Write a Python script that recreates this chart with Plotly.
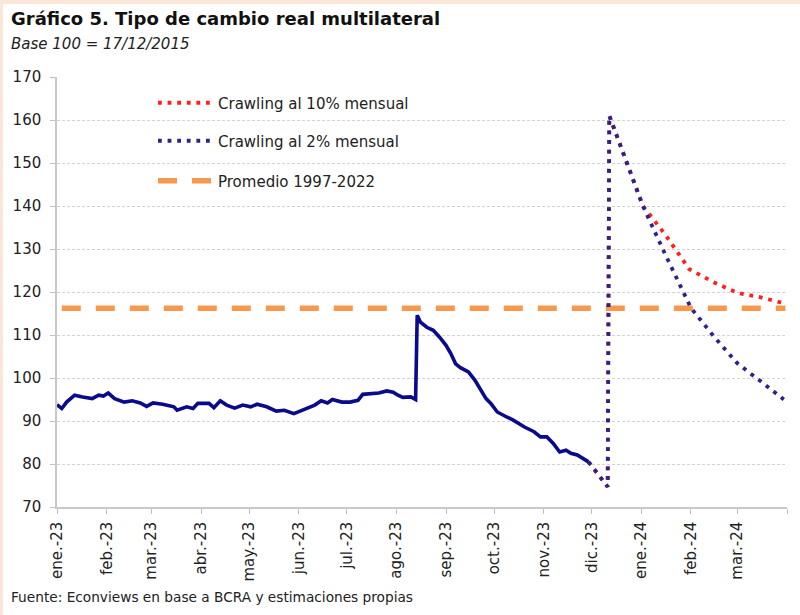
import plotly.graph_objects as go

# ---------------- data ----------------
actual_dates = [
    "2023-01-01", "2023-01-04", "2023-01-07", "2023-01-12", "2023-01-17", "2023-01-23",
    "2023-01-27", "2023-01-30", "2023-02-02", "2023-02-06", "2023-02-12", "2023-02-17",
    "2023-02-22", "2023-02-26", "2023-03-02", "2023-03-08", "2023-03-15", "2023-03-17",
    "2023-03-23", "2023-03-27", "2023-03-30", "2023-04-06", "2023-04-09", "2023-04-13",
    "2023-04-17", "2023-04-22", "2023-04-27", "2023-05-02", "2023-05-06", "2023-05-12",
    "2023-05-18", "2023-05-23", "2023-05-29", "2023-06-02", "2023-06-06", "2023-06-11",
    "2023-06-15", "2023-06-19", "2023-06-22", "2023-06-28", "2023-07-03", "2023-07-08",
    "2023-07-11", "2023-07-16", "2023-07-21", "2023-07-26", "2023-07-30", "2023-08-02",
    "2023-08-05", "2023-08-10", "2023-08-13", "2023-08-14", "2023-08-16", "2023-08-20",
    "2023-08-24", "2023-08-28", "2023-09-01", "2023-09-04", "2023-09-07", "2023-09-10",
    "2023-09-15", "2023-09-19", "2023-09-22", "2023-09-26", "2023-09-29", "2023-10-03",
    "2023-10-08", "2023-10-13", "2023-10-20", "2023-10-26", "2023-10-30", "2023-11-03",
    "2023-11-07", "2023-11-11", "2023-11-15", "2023-11-18", "2023-11-22", "2023-11-26",
    "2023-11-29",
]
actual_values = [
    93.8, 92.9, 94.4, 96.0, 95.6, 95.2,
    96.0, 95.8, 96.5, 95.2, 94.4, 94.7,
    94.2, 93.4, 94.2, 93.9, 93.3, 92.5,
    93.3, 92.9, 94.1, 94.1, 93.1, 94.7,
    93.7, 93.0, 93.7, 93.3, 93.9, 93.3,
    92.3, 92.5, 91.7, 92.3, 93.1, 93.7,
    94.7, 94.2, 95.0, 94.4, 94.4, 94.8,
    96.2, 96.4, 96.5, 97.0, 96.7, 96.0,
    95.5, 95.6, 95.0, 114.6, 113.0, 111.8,
    111.1, 109.5, 107.6, 105.7, 103.3, 102.4,
    101.4, 99.5, 97.5, 95.2, 94.1, 92.1,
    91.1, 90.2, 88.6, 87.5, 86.3, 86.3,
    84.8, 82.8, 83.2, 82.5, 82.1, 81.3,
    80.5,
]

crawl10_dates = ["2023-11-29", "2023-12-11", "2023-12-12", "2024-01-02", "2024-01-16",
                 "2024-01-31", "2024-02-15", "2024-03-01", "2024-03-15", "2024-03-30"]
crawl10_values = [80.5, 74.7, 161.0, 140.0, 133.3, 125.3, 122.3, 119.8, 118.8, 117.4]

crawl2_dates = ["2023-11-29", "2023-12-11", "2023-12-12", "2024-01-02", "2024-01-16",
                "2024-02-01", "2024-02-15", "2024-03-01", "2024-03-15", "2024-03-30"]
crawl2_values = [80.5, 74.7, 161.0, 140.0, 128.7, 116.3, 109.8, 103.4, 99.4, 95.0]

avg_dates = ["2023-01-04", "2024-03-31"]
avg_values = [116.2, 116.2]

tick_dates = ["2023-01-01", "2023-02-01", "2023-03-01", "2023-04-01", "2023-05-01",
              "2023-06-01", "2023-07-01", "2023-08-01", "2023-09-01", "2023-10-01",
              "2023-11-01", "2023-12-01", "2024-01-01", "2024-02-01", "2024-03-01",
              "2024-04-01"]
tick_labels = ["ene.-23", "feb.-23", "mar.-23", "abr.-23", "may.-23", "jun.-23",
               "jul.-23", "ago.-23", "sep.-23", "oct.-23", "nov.-23", "dic.-23",
               "ene.-24", "feb.-24", "mar.-24", ""]

names = ["Crawling al 10% mensual", "Crawling al 2% mensual", "Promedio 1997-2022"]
title = "Gráfico 5. Tipo de cambio real multilateral"
subtitle = "Base 100 = 17/12/2015"
source = "Fuente: Econviews en base a BCRA y estimaciones propias"

# ---------------- layout geometry ----------------
W, H = 800, 615
L, R, T, B = 57, 13, 77, 108
PW, PH = W - L - R, H - T - B


def px(xp):
    return (xp - L) / PW


def py(yp):
    return (H - B - yp) / PH


FONT = "DejaVu Sans"
RED = "#FF1F1F"
BLUE2 = "#2C2388"
NAVY = "#0A0A8C"
ORANGE = "#F7984C"

fig = go.Figure()

fig.add_trace(go.Scatter(
    x=avg_dates, y=avg_values, mode="lines", name=names[2],
    line=dict(color=ORANGE, width=5.5, dash="19px,15px"), legend="legend3"))
fig.add_trace(go.Scatter(
    x=crawl10_dates, y=crawl10_values, mode="lines", name=names[0],
    line=dict(color=RED, width=3.8, dash="3.8px,5.8px"), legend="legend"))
fig.add_trace(go.Scatter(
    x=crawl2_dates, y=crawl2_values, mode="lines", name=names[1],
    line=dict(color=BLUE2, width=3.8, dash="3.8px,5.8px"), legend="legend2"))
fig.add_trace(go.Scatter(
    x=actual_dates, y=actual_values, mode="lines", name="TCRM",
    line=dict(color=NAVY, width=3.6), showlegend=False))

leg_common = dict(font=dict(family=FONT, size=15, color="#222222"),
                  bgcolor="rgba(0,0,0,0)", xanchor="left", yanchor="middle",
                  itemwidth=55, borderwidth=0)

fig.update_layout(
    width=W, height=H,
    margin=dict(l=L, r=R, t=T, b=B),
    paper_bgcolor="white", plot_bgcolor="white",
    font=dict(family=FONT, size=15, color="#222222"),
    legend=dict(x=px(153), y=py(103), **leg_common),
    legend2=dict(x=px(153), y=py(141), **leg_common),
    legend3=dict(x=px(153), y=py(181), **leg_common),
    xaxis=dict(
        type="date", range=["2023-01-01", "2024-04-01"],
        tickmode="array", tickvals=tick_dates, ticktext=tick_labels,
        tickangle=-90, ticks="outside", ticklen=5, tickcolor="#BFBFBF",
        showline=True, linecolor="#C8C8C8", linewidth=1.5,
        showgrid=False, zeroline=False, ticklabelstandoff=2,
        tickfont=dict(family=FONT, size=15, color="#222222"),
    ),
    yaxis=dict(
        range=[70, 170], tickmode="linear", tick0=70, dtick=10,
        ticks="outside", ticklen=5, tickcolor="#BFBFBF",
        showline=True, linecolor="#C8C8C8", linewidth=1.5,
        showgrid=True, gridcolor="#D3D3D3", gridwidth=1, griddash="3px,2px",
        zeroline=False, ticklabelstandoff=6,
        tickfont=dict(family=FONT, size=15, color="#222222"),
    ),
    shapes=[
        dict(type="rect", xref="paper", yref="paper", x0=px(0), x1=px(W), y0=py(0), y1=py(4),
             fillcolor="#FCE6D8", line=dict(width=0), layer="below"),
        dict(type="rect", xref="paper", yref="paper", x0=px(0), x1=px(3), y0=py(H), y1=py(0),
             fillcolor="#FCE6D8", line=dict(width=0), layer="below"),
    ],
    annotations=[
        dict(text="<b>" + title + "</b>", xref="paper", yref="paper", x=px(9), y=py(6),
             xanchor="left", yanchor="top", showarrow=False,
             font=dict(family=FONT, size=18, color="#111111")),
        dict(text="<i>" + subtitle + "</i>", xref="paper", yref="paper", x=px(9), y=py(33),
             xanchor="left", yanchor="top", showarrow=False,
             font=dict(family=FONT, size=15, color="#222222")),
        dict(text=source, xref="paper", yref="paper", x=px(9), y=py(587),
             xanchor="left", yanchor="top", showarrow=False,
             font=dict(family=FONT, size=13.7, color="#222222")),
    ],
)

fig.write_html("out.html", config={"displayModeBar": False},
               post_script="document.body.style.margin='0';document.body.style.overflow='hidden';")
